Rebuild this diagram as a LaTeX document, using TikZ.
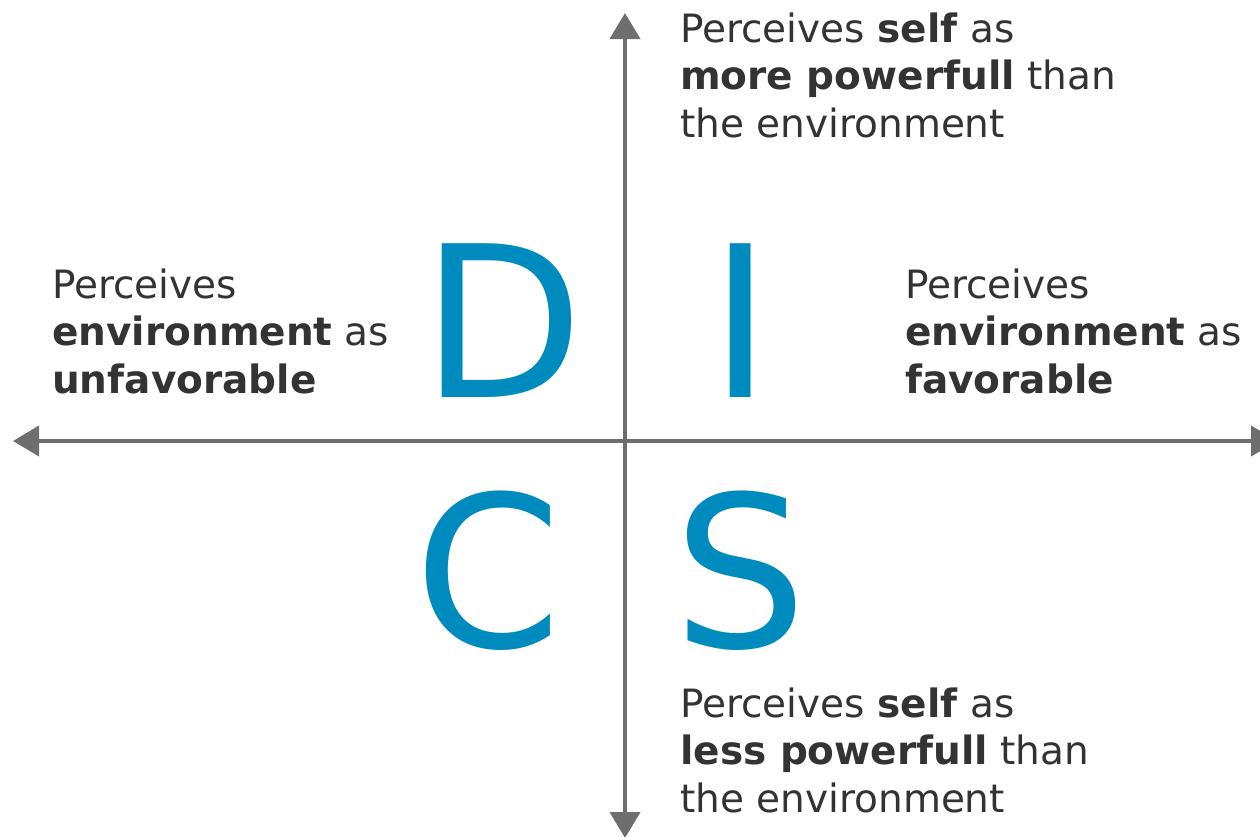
\documentclass[tikz,border=0pt]{standalone}
\usepackage{fontspec}
\setmainfont{DejaVu Sans}
\usetikzlibrary{arrows.meta}
\definecolor{discblue}{HTML}{008BBF}
\definecolor{axisgray}{HTML}{6E6E6E}
\definecolor{textgray}{HTML}{333333}
\begin{document}
\begin{tikzpicture}[x=1pt,y=-1pt,
    axis/.style={axisgray,line width=4pt,{Triangle[length=26pt,width=30pt]}-{Triangle[length=26pt,width=30pt]}},
    letter/.style={discblue,anchor=base,inner sep=0pt,font=\fontsize{211}{211}\selectfont},
    desc/.style={textgray,anchor=base west,align=left,inner sep=0pt,font=\fontsize{39}{47.5}\selectfont}]
  \useasboundingbox (0,0) rectangle (1260,836);
  \coordinate (top) at (625,13);
  \coordinate (bottom) at (625,838);
  \coordinate (left) at (13,441);
  \coordinate (right) at (1277,441);
  \draw[axis] (left) -- (right);
  \draw[axis] (bottom) -- (top);
  % the four quadrants
  \node[letter] (D) at (503,397) {D};
  \node[letter] (I) at (741,397) {I};
  \node[letter] (C) at (488,647) {C};
  \node[letter] (S) at (740,647) {S};
  % what each end of the axes means (placed by the last line)
  \node[desc] (power) at (680,137) {Perceives \textbf{self} as\\\textbf{more powerfull} than\\the environment};
  \node[desc] (unfav) at (52,393) {Perceives\\\textbf{environment} as\\\textbf{unfavorable}};
  \node[desc] (fav) at (905,393) {Perceives\\\textbf{environment} as\\\textbf{favorable}};
  \node[desc] (less) at (680,812) {Perceives \textbf{self} as\\\textbf{less powerfull} than\\the environment};
\end{tikzpicture}
\end{document}
